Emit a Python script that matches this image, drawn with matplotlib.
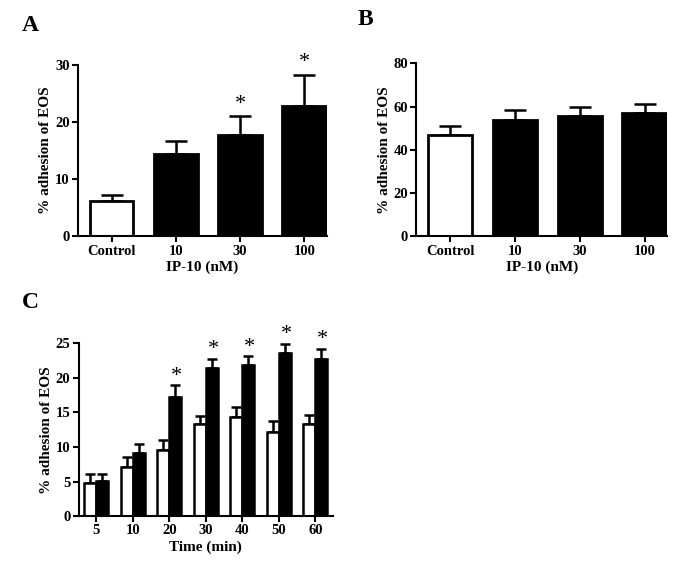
import matplotlib.pyplot as plt
import numpy as np

plt.rcParams['font.family'] = ['Liberation Serif', 'DejaVu Serif']
plt.rcParams['font.weight'] = 'bold'
plt.rcParams['axes.labelweight'] = 'bold'

# Panel A / B: dose response
dose_labels = ['Control', '10', '30', '100']
a_means = [6.2, 14.4, 17.8, 22.9]
a_errs = [1.0, 2.3, 3.2, 5.4]
a_stars = [False, False, True, True]

b_means = [46.8, 53.8, 55.7, 57.0]
b_errs = [4.2, 4.6, 4.1, 4.3]

# Panel C: time course
time_labels = ['5', '10', '20', '30', '40', '50', '60']
c_ctrl = [4.8, 7.1, 9.5, 13.3, 14.4, 12.1, 13.3]
c_ctrl_err = [1.3, 1.4, 1.5, 1.2, 1.4, 1.7, 1.4]
c_ip10 = [5.1, 9.2, 17.2, 21.5, 21.9, 23.6, 22.7]
c_ip10_err = [1.0, 1.3, 1.7, 1.3, 1.2, 1.3, 1.5]
c_stars = [False, False, True, True, True, True, True]

fig = plt.figure(figsize=(6.85, 5.61), dpi=100)
axA = fig.add_axes([0.114, 0.579, 0.363, 0.305])
axB = fig.add_axes([0.608, 0.579, 0.366, 0.308])
axC = fig.add_axes([0.115, 0.080, 0.371, 0.308])


def style_axis(ax):
    for s in ['top', 'right']:
        ax.spines[s].set_visible(False)
    for s in ['left', 'bottom']:
        ax.spines[s].set_linewidth(1.5)
    ax.tick_params(direction='out', length=4, width=1.5, labelsize=10.5, pad=2)
    for lab in ax.get_xticklabels() + ax.get_yticklabels():
        lab.set_fontweight('bold')


def dose_panel(ax, means, errs, yticks, stars=None):
    x = np.arange(len(means))
    colors = ['white'] + ['black'] * (len(means) - 1)
    ax.errorbar(x, means, yerr=[np.zeros(len(errs)), errs], fmt='none',
                ecolor='black', elinewidth=1.8, capsize=8, capthick=1.8, zorder=1)
    ax.bar(x, means, width=0.68, color=colors, edgecolor='black', linewidth=2, zorder=2)
    ax.set_xlim(-0.52, 3.35)
    ax.set_ylim(0, yticks[-1])
    ax.set_yticks(yticks)
    ax.set_xticks(x)
    ax.set_xticklabels(dose_labels)
    ax.set_xlabel('IP-10 (nM)', fontsize=11, labelpad=2)
    ax.set_ylabel('% adhesion of EOS', fontsize=11, labelpad=2)
    if stars:
        for xi, m, e, s in zip(x, means, errs, stars):
            if s:
                ax.annotate('*', (xi, m + e), xytext=(0, 8.5), textcoords='offset points',
                            ha='center', va='center', fontsize=16, fontweight='normal',
                            annotation_clip=False)
    style_axis(ax)


dose_panel(axA, a_means, a_errs, [0, 10, 20, 30], a_stars)
dose_panel(axB, b_means, b_errs, [0, 20, 40, 60, 80])

# Panel C
xc = np.arange(len(time_labels))
w = 0.33
axC.errorbar(xc - w / 2, c_ctrl, yerr=[np.zeros(len(c_ctrl)), c_ctrl_err], fmt='none',
             ecolor='black', elinewidth=1.8, capsize=3.5, capthick=1.8, zorder=1)
axC.errorbar(xc + w / 2, c_ip10, yerr=[np.zeros(len(c_ip10)), c_ip10_err], fmt='none',
             ecolor='black', elinewidth=1.8, capsize=3.5, capthick=1.8, zorder=1)
axC.bar(xc - w / 2, c_ctrl, width=w, color='white', edgecolor='black', linewidth=1.8, zorder=2)
axC.bar(xc + w / 2, c_ip10, width=w, color='black', edgecolor='black', linewidth=1.8, zorder=2)
for xi, m, e, s in zip(xc, c_ip10, c_ip10_err, c_stars):
    if s:
        axC.annotate('*', (xi + w / 2, m + e), xytext=(1, 6.5), textcoords='offset points',
                     ha='center', va='center', fontsize=16, fontweight='normal',
                     annotation_clip=False)
axC.set_xlim(-0.475, 6.48)
axC.set_ylim(0, 25)
axC.set_yticks([0, 5, 10, 15, 20, 25])
axC.set_xticks(xc)
axC.set_xticklabels(time_labels)
axC.set_xlabel('Time (min)', fontsize=11, labelpad=2)
axC.set_ylabel('% adhesion of EOS', fontsize=11, labelpad=2)
style_axis(axC)

fig.text(0.032, 0.955, 'A', fontsize=17, fontweight='bold', va='center')
fig.text(0.522, 0.965, 'B', fontsize=17, fontweight='bold', va='center')
fig.text(0.032, 0.46, 'C', fontsize=17, fontweight='bold', va='center')

fig.savefig('out.png', dpi=100)
